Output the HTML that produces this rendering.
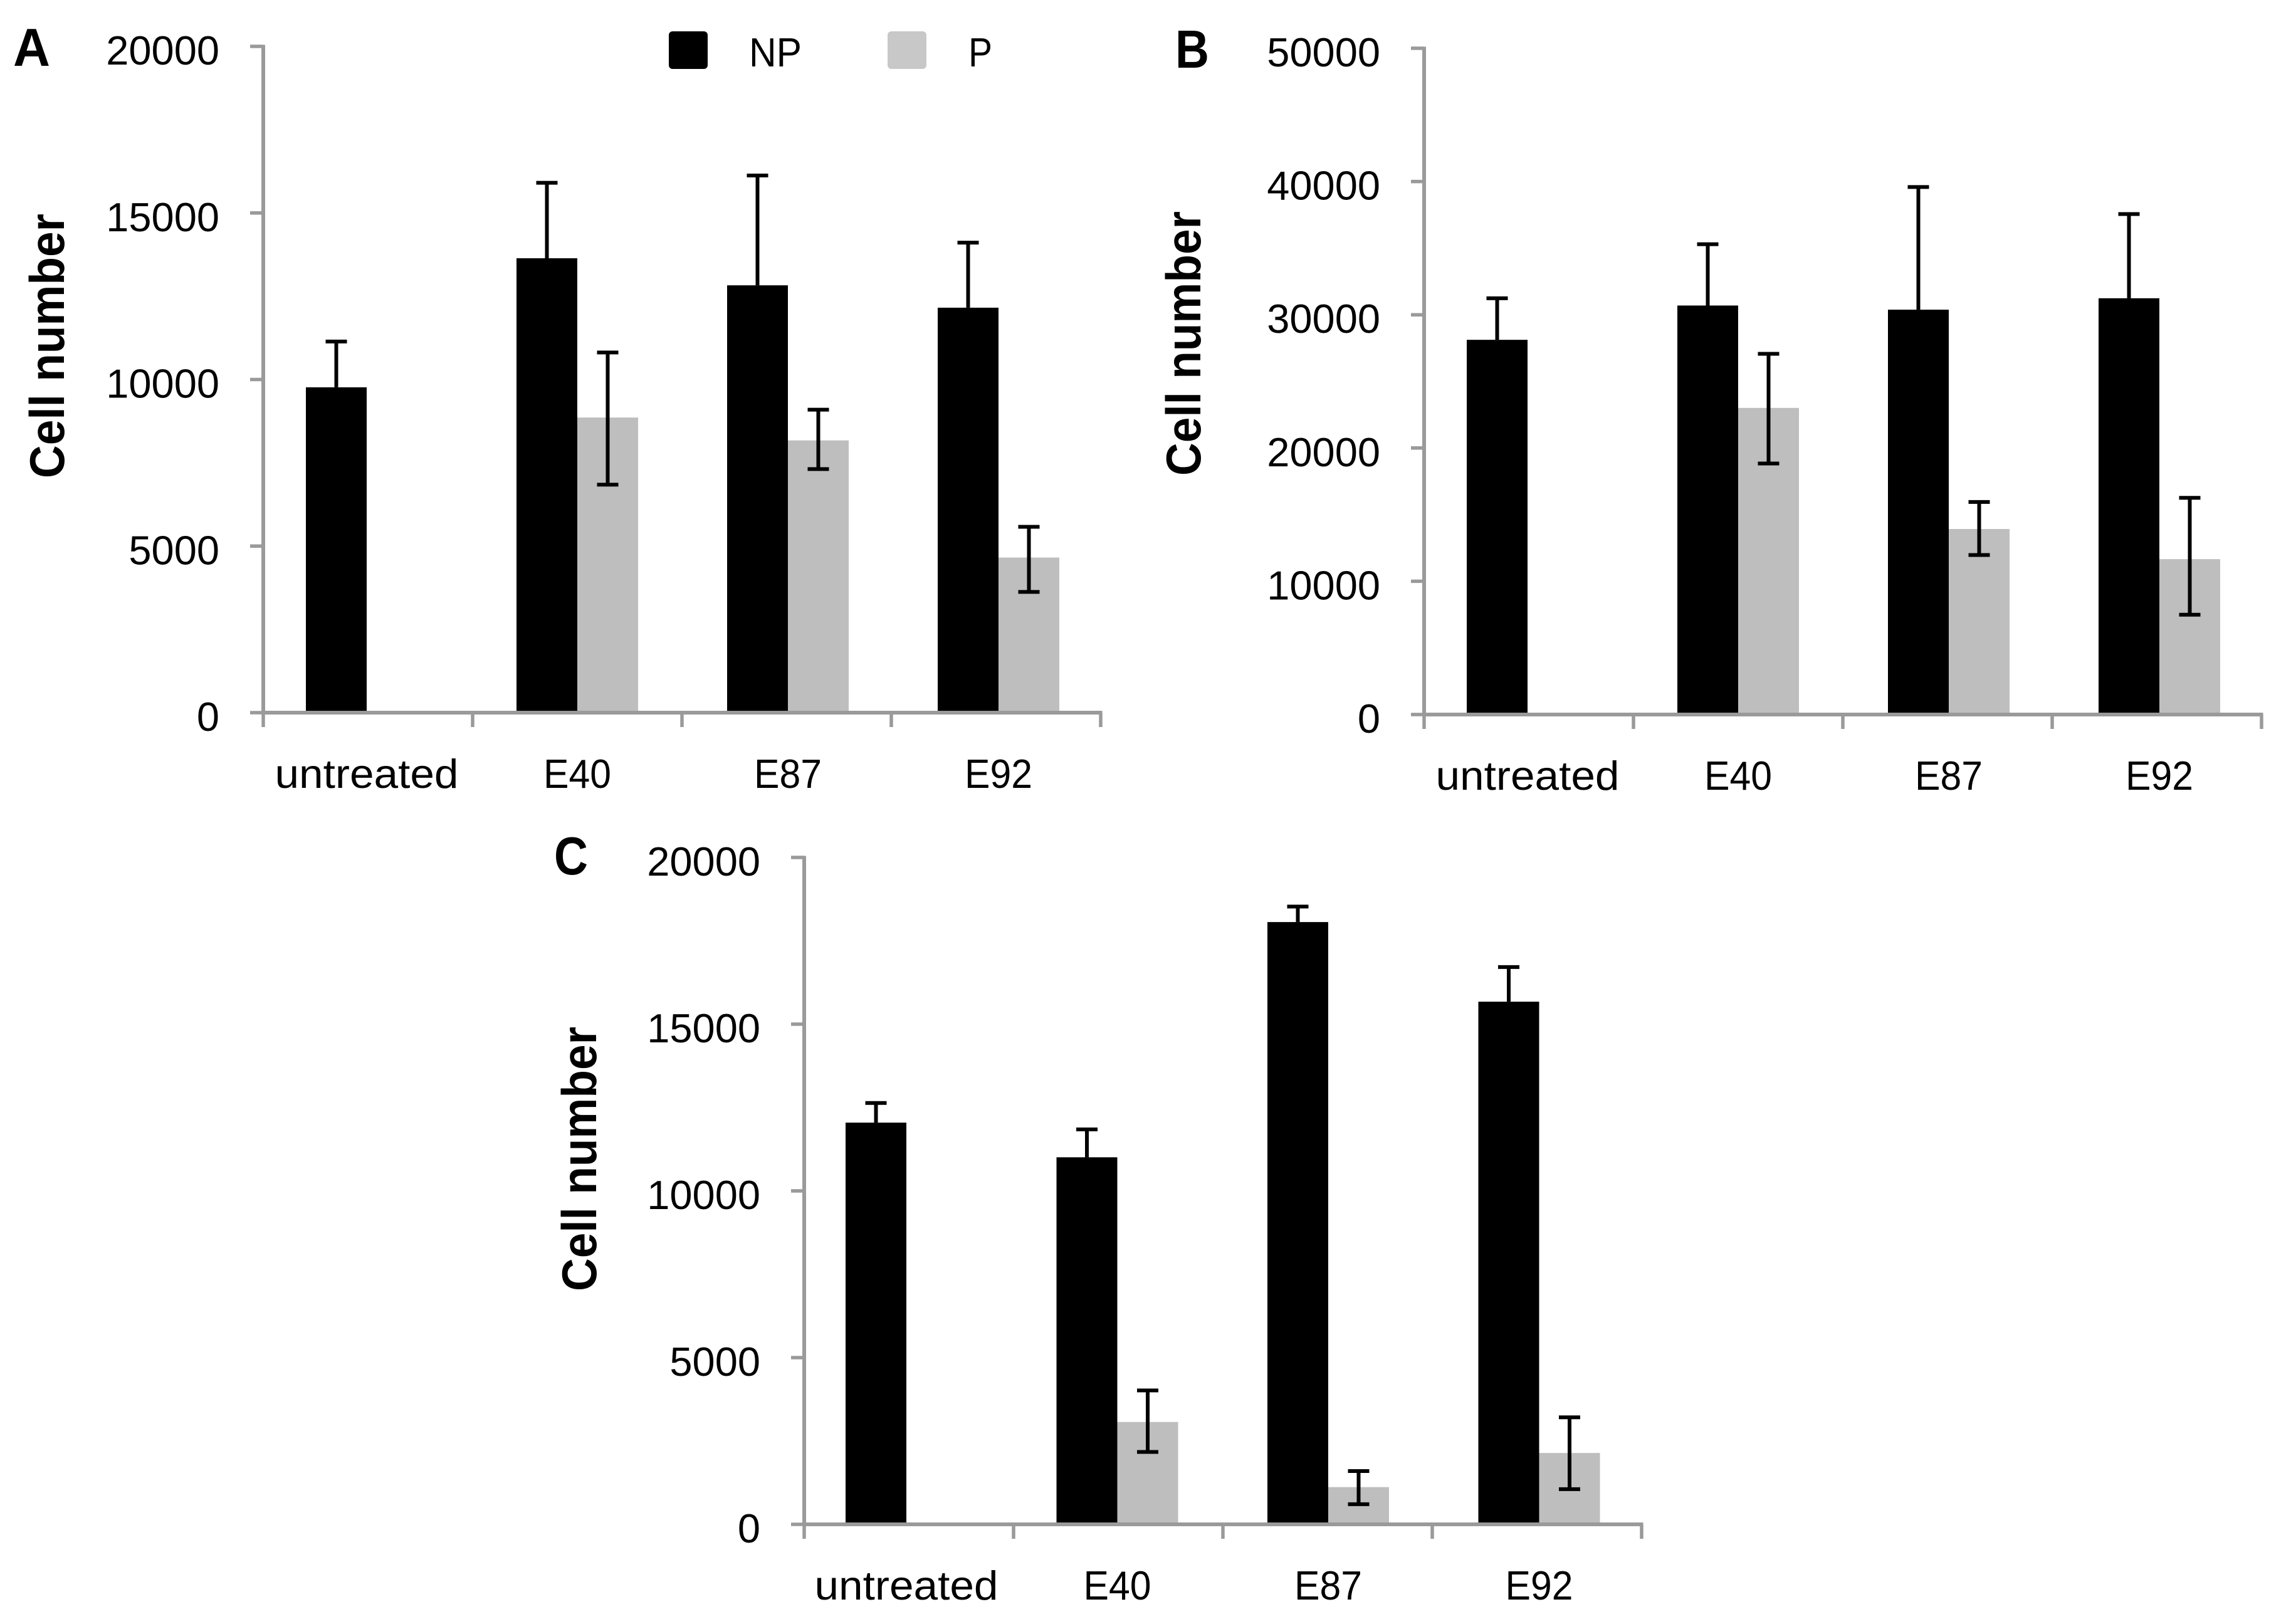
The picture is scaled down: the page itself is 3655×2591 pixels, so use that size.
<!DOCTYPE html>
<html lang="en">
<head>
<meta charset="utf-8">
<title>Cell number by treatment, panels A, B and C</title>
<style>
  html, body { margin: 0; padding: 0; background: #fff; }
  svg { display: block; }
  text { font-family: "Liberation Sans", sans-serif; fill: #000; }
</style>
</head>
<body>
<svg id="figure" xmlns="http://www.w3.org/2000/svg" width="3655" height="2591" viewBox="0 0 3655 2591">
  <rect x="0" y="0" width="3655" height="2591" fill="#ffffff"/>
  <g>
    <rect x="1067" y="50" width="62" height="60" rx="6" fill="#000000"/>
    <text x="1195" y="106" font-size="65" textLength="84" lengthAdjust="spacingAndGlyphs">NP</text>
    <rect x="1416" y="50" width="62" height="60" rx="6" fill="#c8c8c8"/>
    <text x="1545" y="106" font-size="65" textLength="38" lengthAdjust="spacingAndGlyphs">P</text>
  </g>
</svg>
<script>
// Shared categories
const categories = ['untreated', 'E40', 'E87', 'E92'];

// Panel A values
const panelATicks = [0, 5000, 10000, 15000, 20000];
const panelANp = [9766, 13640, 12828, 12156];
const panelANpErrorTop = [11141, 15906, 16125, 14109];
const panelAP = [null, 8859, 8172, 4656];
const panelAPErrorTop = [null, 10812, 9094, 5578];
const panelAPErrorBottom = [null, 6844, 7312, 3625];

// Panel B values
const panelBTicks = [0, 10000, 20000, 30000, 40000, 50000];
const panelBNp = [28120, 30694, 30382, 31240];
const panelBNpErrorTop = [31240, 35296, 39587, 37559];
const panelBP = [null, 23011, 13924, 11661];
const panelBPErrorTop = [null, 27067, 15952, 16264];
const panelBPErrorBottom = [null, 18838, 11973, 7488];

// Panel C values
const panelCTicks = [0, 5000, 10000, 15000, 20000];
const panelCNp = [12047, 11008, 18062, 15674];
const panelCNpErrorTop = [12636, 11845, 18527, 16713];
const panelCP = [null, 3070, 1116, 2140];
const panelCPErrorTop = [null, 4016, 1597, 3209];
const panelCPErrorBottom = [null, 2171, 605, 1054];

const SVG_NS = 'http://www.w3.org/2000/svg';
const figure = document.getElementById('figure');
const AXIS_COLOR = '#9a9a9a';
const GRAY_BAR = '#bebebe';

function make(tag, attrs, parent) {
  const el = document.createElementNS(SVG_NS, tag);
  Object.keys(attrs).forEach(function (k) { el.setAttribute(k, attrs[k]); });
  parent.appendChild(el);
  return el;
}

function drawErrorBar(parent, x, yTop, yBottom, hasBottomCap, label) {
  const g = make('g', { stroke: '#000', 'stroke-width': 6, fill: 'none' }, parent);
  
  
  make('line', { x1: x, x2: x, y1: yTop, y2: yBottom }, g);
  make('line', { x1: x - 17, x2: x + 17, y1: yTop, y2: yTop }, g);
  if (hasBottomCap) {
    make('line', { x1: x - 17, x2: x + 17, y1: yBottom, y2: yBottom }, g);
  }
}

function drawPanel(id, box, ticks, np, npTop, p, pTop, pBottom) {
  const panel = make('g', {}, figure);
  
  

  const maxTick = Math.max.apply(null, ticks);
  const yScale = function (v) { return box.yBase - (v / maxTick) * (box.yBase - box.yTop); };
  const groupCenter = function (i) { return box.groupStart + i * box.groupStep; };
  const barWidth = 97;

  categories.forEach(function (cat, i) {
    const c = groupCenter(i);
    const npBar = make('rect', { x: c - barWidth, y: yScale(np[i]), width: barWidth, height: box.yBase - yScale(np[i]), fill: '#000' }, panel);
    
    
    if (p[i] !== null) {
      const pBar = make('rect', { x: c, y: yScale(p[i]), width: barWidth, height: box.yBase - yScale(p[i]), fill: GRAY_BAR }, panel);
      
      
    }
    drawErrorBar(panel, c - barWidth / 2, yScale(npTop[i]), yScale(np[i]), false, 'np-' + cat);
    if (p[i] !== null) {
      drawErrorBar(panel, c + barWidth / 2, yScale(pTop[i]), yScale(pBottom[i]), true, 'p-' + cat);
    }
  });

  // Y axis
  const yAxis = make('line', { x1: box.xAxis, x2: box.xAxis, y1: box.yTop - 2.5, y2: box.yBase + 2.5, stroke: AXIS_COLOR, 'stroke-width': 6 }, panel);
  
  
  ticks.forEach(function (t) {
    const y = yScale(t);
    const tick = make('line', { x1: box.xAxis - 21, x2: box.xAxis, y1: y, y2: y, stroke: AXIS_COLOR, 'stroke-width': 5.5 }, panel);
    
    
    const label = make('text', { x: box.xAxis - 70, y: y + 29, 'font-size': 65, 'text-anchor': 'end' }, panel);
    
    
    label.textContent = String(t);
  });

  // X axis
  const xRight = box.xAxis + categories.length * box.tickStep;
  const xAxis = make('line', { x1: box.xAxis - 2.5, x2: xRight + 2.5, y1: box.yBase, y2: box.yBase, stroke: AXIS_COLOR, 'stroke-width': 6 }, panel);
  
  
  for (let i = 0; i <= categories.length; i++) {
    const x = box.xAxis + i * box.tickStep;
    const tick = make('line', { x1: x, x2: x, y1: box.yBase, y2: box.yBase + 23, stroke: AXIS_COLOR, 'stroke-width': 5.5 }, panel);
    
    
  }
  categories.forEach(function (cat, i) {
    const label = make('text', {
      x: groupCenter(i), y: box.yBase + 120, 'font-size': 65, 'text-anchor': 'middle',
      textLength: cat.length > 3 ? 293 : 108, lengthAdjust: 'spacingAndGlyphs'
    }, panel);
    
    
    label.textContent = cat;
  });

  // Y axis title
  const title = make('text', {
    x: 0, y: 0, 'font-size': 78, 'font-weight': 'bold', 'text-anchor': 'middle',
    textLength: 422, lengthAdjust: 'spacingAndGlyphs',
    transform: 'translate(' + box.titleX + ',' + box.titleY + ') rotate(-90)'
  }, panel);
  
  
  title.textContent = 'Cell number';

  // Panel letter
  const letter = make('text', {
    x: box.letterX, y: box.letterY, 'font-size': 85, 'font-weight': 'bold',
    textLength: box.letterWidth, lengthAdjust: 'spacingAndGlyphs'
  }, panel);
  
  
  letter.textContent = id;
}

drawPanel('A',
  { xAxis: 420, tickStep: 334, yTop: 74, yBase: 1137, groupStart: 585, groupStep: 336,
    titleX: 102, titleY: 552, letterX: 21, letterY: 105, letterWidth: 59 },
  panelATicks, panelANp, panelANpErrorTop, panelAP, panelAPErrorTop, panelAPErrorBottom);

drawPanel('B',
  { xAxis: 2272, tickStep: 334, yTop: 77, yBase: 1140, groupStart: 2437, groupStep: 336,
    titleX: 1915, titleY: 548, letterX: 1875, letterY: 108, letterWidth: 54 },
  panelBTicks, panelBNp, panelBNpErrorTop, panelBP, panelBPErrorTop, panelBPErrorBottom);

drawPanel('C',
  { xAxis: 1283, tickStep: 334, yTop: 1368, yBase: 2432, groupStart: 1446, groupStep: 336.5,
    titleX: 951, titleY: 1849, letterX: 884, letterY: 1395, letterWidth: 54 },
  panelCTicks, panelCNp, panelCNpErrorTop, panelCP, panelCPErrorTop, panelCPErrorBottom);
</script>
</body>
</html>
